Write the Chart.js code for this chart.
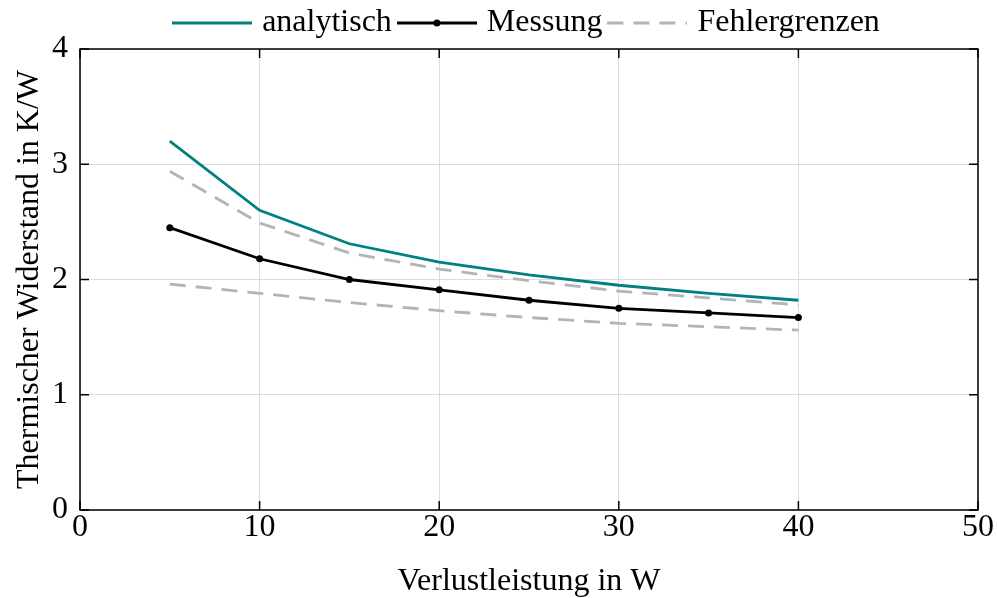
<!DOCTYPE html>
<html lang="de">
<head>
    <meta charset="UTF-8">
    <title>Thermischer Widerstand</title>
    <script src="https://cdn.jsdelivr.net/npm/chart.js"></script>
    <style>
        body { margin: 0; background: #ffffff; }
        #wrap { width: 998px; height: 598px; }
    </style>
</head>
<body>
    <div id="wrap"><canvas id="chart" width="998" height="598"></canvas></div>
    <script>
        // Verlustleistung in W
        const power = [5, 10, 15, 20, 25, 30, 35, 40];
        // Thermischer Widerstand in K/W
        const analytisch = [3.20, 2.60, 2.31, 2.15, 2.04, 1.95, 1.88, 1.82];
        const messung = [2.45, 2.18, 2.00, 1.91, 1.82, 1.75, 1.71, 1.67];
        const grenzeOben = [2.94, 2.49, 2.23, 2.09, 1.99, 1.90, 1.84, 1.78];
        const grenzeUnten = [1.96, 1.88, 1.80, 1.73, 1.67, 1.62, 1.59, 1.56];
        const xTicks = [0, 10, 20, 30, 40, 50];
        const yTicks = [0, 1, 2, 3, 4];

        const TEAL = '#008080';
        const GREY = '#b4b4b4';
        const FONT = "'Liberation Serif', 'Times New Roman', serif";
        const LW = 2.8;

        function pts(ys) {
            return power.map((x, i) => ({ x: x, y: ys[i] }));
        }

        // small canvases used as legend symbols
        function legendSymbol(color, dash, dot) {
            const c = document.createElement('canvas');
            c.width = 80; c.height = 12;
            const g = c.getContext('2d');
            g.strokeStyle = color;
            g.lineWidth = LW;
            g.setLineDash(dash);
            g.beginPath();
            g.moveTo(0, 6);
            g.lineTo(80, 6);
            g.stroke();
            if (dot) {
                g.fillStyle = color;
                g.beginPath();
                g.arc(40, 6, 3.5, 0, 2 * Math.PI);
                g.fill();
            }
            return c;
        }
        const symbols = [
            legendSymbol(TEAL, [], false),
            legendSymbol('#000000', [], true),
            legendSymbol(GREY, [16, 10], false)
        ];

        // black frame with inward tick marks, like the original plot
        const framePlugin = {
            id: 'frame',
            afterLayout(chart) {
                const lg = chart.legend;
                if (lg) {
                    lg.left = chart.chartArea.left;
                    lg.right = chart.chartArea.right;
                }
            },
            afterDatasetsDraw(chart) {
                const { ctx, chartArea: a, scales } = chart;
                ctx.save();
                ctx.strokeStyle = '#000000';
                ctx.lineWidth = 1.5;
                ctx.strokeRect(a.left, a.top, a.right - a.left, a.bottom - a.top);
                ctx.beginPath();
                xTicks.forEach(v => {
                    const px = scales.x.getPixelForValue(v);
                    ctx.moveTo(px, a.bottom); ctx.lineTo(px, a.bottom - 9);
                    ctx.moveTo(px, a.top); ctx.lineTo(px, a.top + 9);
                });
                yTicks.forEach(v => {
                    const py = scales.y.getPixelForValue(v);
                    ctx.moveTo(a.left, py); ctx.lineTo(a.left + 9, py);
                    ctx.moveTo(a.right, py); ctx.lineTo(a.right - 9, py);
                });
                ctx.stroke();
                ctx.restore();
            }
        };

        Chart.defaults.font.family = FONT;
        Chart.defaults.color = '#000000';

        new Chart(document.getElementById('chart').getContext('2d'), {
            type: 'line',
            data: {
                datasets: [
                    {
                        label: 'analytisch',
                        data: pts(analytisch),
                        borderColor: TEAL,
                        backgroundColor: TEAL,
                        borderWidth: LW,
                        pointRadius: 0
                    },
                    {
                        label: 'Messung',
                        data: pts(messung),
                        borderColor: '#000000',
                        backgroundColor: '#000000',
                        borderWidth: LW,
                        pointRadius: 3.5,
                        pointBorderWidth: 0
                    },
                    {
                        label: 'Fehlergrenzen',
                        data: pts(grenzeOben),
                        borderColor: GREY,
                        backgroundColor: GREY,
                        borderWidth: LW,
                        borderDash: [16, 10],
                        pointRadius: 0
                    },
                    {
                        label: 'Fehlergrenzen unten',
                        data: pts(grenzeUnten),
                        borderColor: GREY,
                        backgroundColor: GREY,
                        borderWidth: LW,
                        borderDash: [16, 10],
                        pointRadius: 0
                    }
                ]
            },
            options: {
                responsive: false,
                animation: false,
                layout: { padding: { left: 0, right: 20, top: -4, bottom: 0 } },
                plugins: {
                    tooltip: { enabled: false },
                    legend: {
                        position: 'top',
                        labels: {
                            usePointStyle: true,
                            pointStyleWidth: 68,
                            boxHeight: 12,
                            padding: 11,
                            font: { size: 32, family: FONT, lineHeight: 1 },
                            color: '#000000',
                            generateLabels(chart) {
                                return chart.data.datasets.slice(0, 3).map((ds, i) => ({
                                    text: ds.label,
                                    pointStyle: symbols[i],
                                    fillStyle: ds.borderColor,
                                    strokeStyle: ds.borderColor,
                                    lineWidth: 0,
                                    hidden: false,
                                    datasetIndex: i
                                }));
                            }
                        }
                    }
                },
                scales: {
                    x: {
                        type: 'linear',
                        min: 0,
                        max: 50,
                        afterFit(scale) { scale.height = 88; },
                        afterBuildTicks(scale) { scale.ticks = xTicks.map(v => ({ value: v })); },
                        grid: { color: '#dcdcdc', lineWidth: 1, drawTicks: false },
                        border: { display: false },
                        ticks: { padding: 2, font: { size: 32, lineHeight: 1 }, color: '#000000' },
                        title: {
                            display: true,
                            text: 'Verlustleistung in W',
                            font: { size: 32, lineHeight: 1 },
                            color: '#000000',
                            padding: { top: 0, bottom: 0 }
                        }
                    },
                    y: {
                        type: 'linear',
                        min: 0,
                        max: 4,
                        afterFit(scale) { scale.width = 80; },
                        afterBuildTicks(scale) { scale.ticks = yTicks.map(v => ({ value: v })); },
                        grid: { color: '#dcdcdc', lineWidth: 1, drawTicks: false },
                        border: { display: false },
                        ticks: { padding: 12, font: { size: 32 }, color: '#000000' },
                        title: {
                            display: true,
                            text: 'Thermischer Widerstand in K/W',
                            font: { size: 32 },
                            color: '#000000',
                            padding: { top: 10, bottom: 0 }
                        }
                    }
                }
            },
            plugins: [framePlugin]
        });
    </script>
</body>
</html>
